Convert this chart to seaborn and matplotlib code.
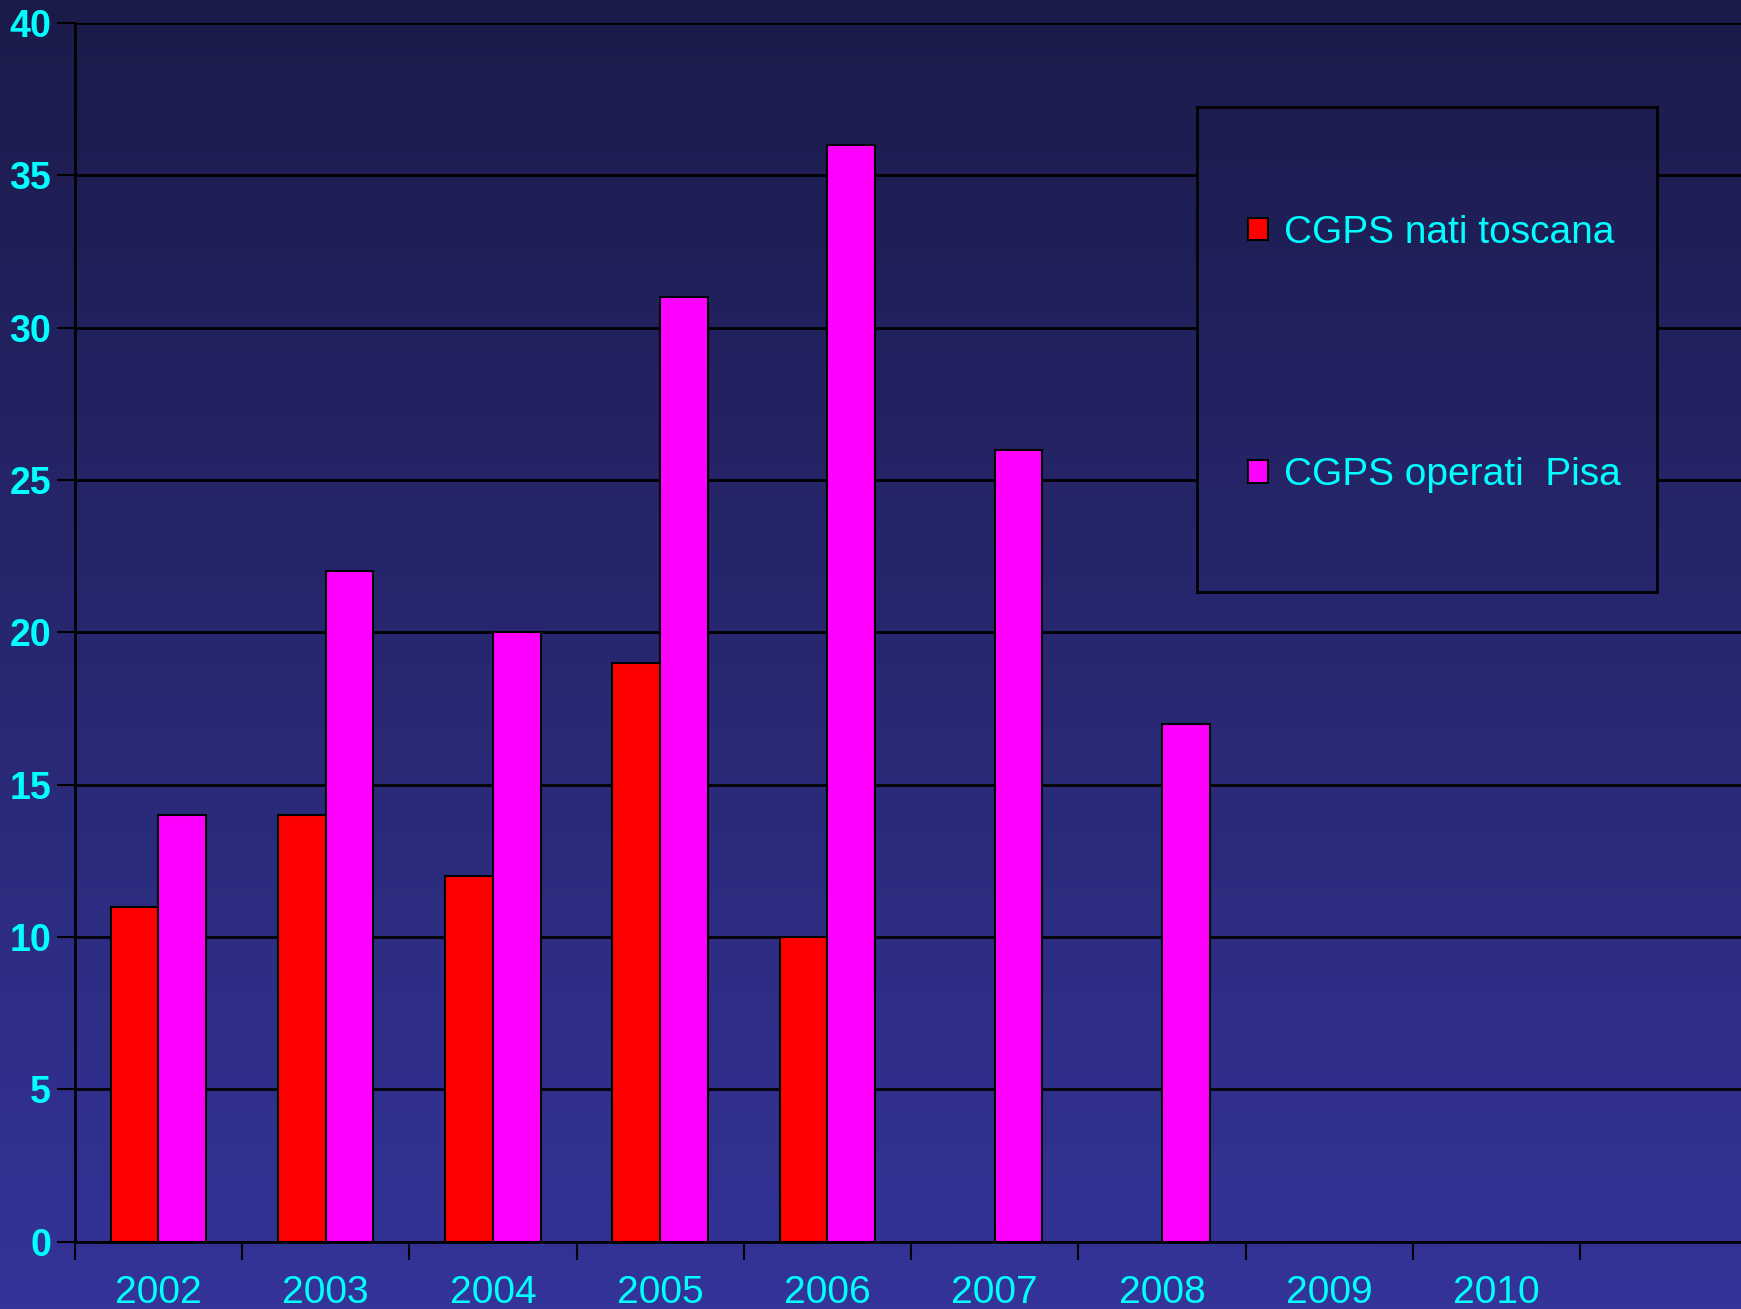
import numpy as np
import pandas as pd
import matplotlib
matplotlib.use('Agg')
import matplotlib.pyplot as plt
import seaborn as sns
from matplotlib.patches import Patch
from matplotlib.colors import LinearSegmentedColormap

# dati
years = ['2002', '2003', '2004', '2005', '2006', '2007', '2008', '2009', '2010']
nati_toscana = [11, 14, 12, 19, 10, 0, 0, 0, 0]
operati_pisa = [14, 22, 20, 31, 36, 26, 17, 0, 0]
series_names = ['CGPS nati toscana', 'CGPS operati  Pisa']
series_colors = ['#ff0000', '#ff00ff']
y_ticks = [0, 5, 10, 15, 20, 25, 30, 35, 40]

df = pd.DataFrame({
    'anno': years * 2,
    'valore': nati_toscana + operati_pisa,
    'serie': [series_names[0]] * len(years) + [series_names[1]] * len(years),
})

sns.set_style('white')
plt.rcParams['font.family'] = ['Liberation Sans', 'DejaVu Sans']

W, H = 1741, 1309
fig = plt.figure(figsize=(W / 100, H / 100), dpi=100)

# sfondo sfumato
cmap = LinearSegmentedColormap.from_list('bg', ['#1b1b4a', '#343499'])
bg = fig.add_axes([0, 0, 1, 1], zorder=-1)
bg.imshow(np.linspace(0, 1, 256).reshape(-1, 1), aspect='auto', cmap=cmap,
          vmin=0, vmax=1, extent=[0, 1, 0, 1], origin='upper')
bg.axis('off')

x0, y0, y1 = 74.6, 1241.7, 23
ax = fig.add_axes([x0 / W, (H - y0) / H, 1 - x0 / W, (y0 - y1) / H])
ax.set_facecolor('none')

sns.barplot(data=df, x='anno', y='valore', hue='serie', order=years,
            hue_order=series_names, palette=series_colors, width=0.57,
            edgecolor='black', linewidth=1.5, saturation=1, legend=False,
            ax=ax, zorder=3)

slot = 167.3
ax.set_yticks(y_ticks)
ax.set_xticks(np.arange(-0.5, 9, 1), minor=True)
ax.set_xlim(-0.5, -0.5 + (W - x0) / slot)
ax.set_ylim(0, 40)
ax.set_xlabel('')
ax.set_ylabel('')

ax.yaxis.grid(True, color='black', linewidth=2)
ax.set_axisbelow(True)
for s in ['top', 'right']:
    ax.spines[s].set_visible(False)
for s in ['left', 'bottom']:
    ax.spines[s].set_color('black')
    ax.spines[s].set_linewidth(2)

ax.tick_params(axis='y', which='major', length=13, width=1.5, color='black',
               pad=4, labelsize=27, labelcolor='#00ffff', left=True)
for lbl in ax.get_yticklabels():
    lbl.set_fontweight('bold')
ax.tick_params(axis='x', which='major', length=0, pad=24, labelsize=28,
               labelcolor='#00ffff')
ax.tick_params(axis='x', which='minor', length=13, width=1.5, color='black',
               bottom=True)

# riquadro legenda (copre la griglia, stesso sfondo sfumato)
lx, ltop, lw, lbot = 1197, 107, 460, 592
box = fig.add_axes([lx / W, 1 - lbot / H, lw / W, (lbot - ltop) / H], zorder=5)
box.imshow(np.linspace(ltop / H, lbot / H, 128).reshape(-1, 1), aspect='auto',
           cmap=cmap, vmin=0, vmax=1, extent=[0, 1, 0, 1], origin='upper')
box.set_xticks([])
box.set_yticks([])
for s in box.spines.values():
    s.set_color('black')
    s.set_linewidth(2)

handles = [Patch(facecolor=c, edgecolor='black', linewidth=1.5) for c in series_colors]
leg = box.legend(handles, series_names, loc='center',
                 bbox_to_anchor=(1434 / W, 1 - 354 / H),
                 bbox_transform=fig.transFigure, frameon=False,
                 fontsize=28, labelcolor='#00ffff', handlelength=0.52,
                 handleheight=0.52, handletextpad=0.4, labelspacing=5.3)

fig.savefig('out.png', dpi=100)
